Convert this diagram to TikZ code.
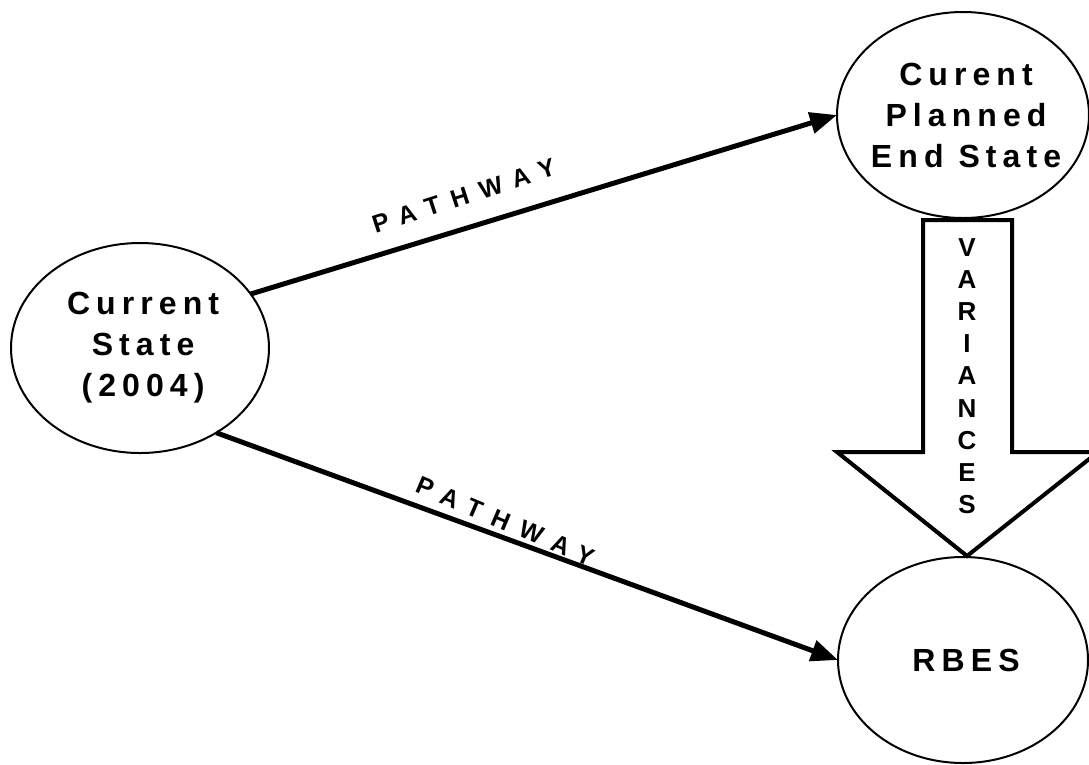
\documentclass[tikz,border=0pt]{standalone}
\usepackage{fontspec}
\setmainfont{Liberation Sans}
\newfontfamily\bfA{Liberation Sans Bold}
\newfontfamily\lsA[LetterSpace=19]{Liberation Sans Bold}
\newfontfamily\lsB[LetterSpace=48]{Liberation Sans Bold}
\usetikzlibrary{shapes.geometric,arrows.meta,calc}
\begin{document}
\begin{tikzpicture}[x=1pt,y=-1pt,
  state/.style={ellipse, draw, line width=2pt, inner sep=0pt, outer sep=0pt},
  statetext/.style={align=center, inner sep=0pt, font=\lsA\fontsize{32}{41}\selectfont},
  pathline/.style={line width=5pt, -{Triangle[length=27pt,width=21pt]}},
  plabel/.style={font=\lsB\fontsize{25}{28}\selectfont, inner sep=0pt},
  vlabel/.style={font=\bfA\fontsize{26}{32.2}\selectfont, align=center, inner sep=0pt},
  blockarrow/.style={draw, line width=4pt, line join=miter, fill=white}]
\useasboundingbox (0,0) rectangle (1089,764);
\fill[white] (0,0) rectangle (1089,764);
% block arrow (variances)
\draw[blockarrow] (923,220) -- (1012,220) -- (1012,452) -- (1098,452) -- (967,556) -- (837,452) -- (923,452) -- cycle;
\node[vlabel] (var) at (967,376) {V\\A\\R\\I\\A\\N\\C\\E\\S};
% states
\node[state, minimum width=258pt, minimum height=210pt] (cs) at (140,348) {};
\node[statetext] (cst) at (cs.center) {\kern.19em Current\\\kern.19em State\\\kern.19em (2004)};
\node[state, minimum width=252pt, minimum height=206pt] (pes) at (963,115) {};
\node[statetext] (pest) at (pes.center) {\kern.19em Curent\\\kern.19em Planned\\\kern.19em End State};
\node[state, minimum width=250pt, minimum height=206pt] (rbes) at (963,660) {};
\node[statetext] (rbest) at (rbes.center) {\kern.19em RBES};
% pathways
\draw[pathline] (cs.26) -- (pes.west);
\draw[pathline] (cs.-48) -- (rbes.west);
\node[plabel, rotate=18] (p1) at (458,198) {\kern.48em PATHWAY};
\node[plabel, rotate=-23] (p2) at (500,519) {\kern.48em PATHWAY};
\end{tikzpicture}
\end{document}
